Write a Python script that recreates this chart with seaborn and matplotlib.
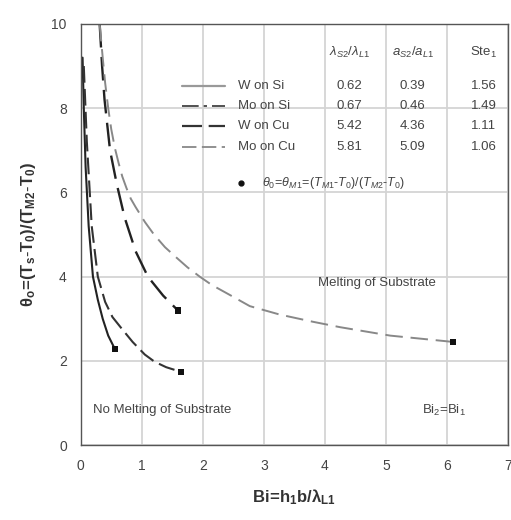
import numpy as np
import matplotlib
matplotlib.use('Agg')
import matplotlib.pyplot as plt
import pandas as pd
import seaborn as sns

sns.set_theme(style="whitegrid")
plt.rcParams['font.family'] = ['Liberation Sans', 'DejaVu Sans']
plt.rcParams['mathtext.fontset'] = 'custom'
plt.rcParams['mathtext.rm'] = 'Liberation Sans'
plt.rcParams['mathtext.it'] = 'Liberation Sans:italic'
plt.rcParams['mathtext.bf'] = 'Liberation Sans:bold'

# curves (Bi, theta)
a_x = [0.03, 0.05, 0.08, 0.13, 0.2, 0.28, 0.36, 0.45, 0.56]
a_y = [9.2, 8.0, 6.6, 5.2, 4.0, 3.45, 3.0, 2.6, 2.28]
b_x = [0.05, 0.1, 0.18, 0.28, 0.4, 0.52, 0.68, 0.85, 1.05, 1.21, 1.4, 1.64]
b_y = [9.0, 7.2, 5.2, 4.0, 3.4, 3.04, 2.75, 2.45, 2.15, 1.98, 1.85, 1.74]
c_x = [0.31, 0.35, 0.39, 0.48, 0.59, 0.72, 0.9, 1.1, 1.35, 1.59]
c_y = [10.0, 9.0, 8.2, 7.0, 6.2, 5.4, 4.6, 4.0, 3.55, 3.2]
d_x = [0.31, 0.36, 0.4, 0.45, 0.5, 0.56, 0.62, 0.68, 0.75, 0.82, 0.9, 1.05,
       1.2, 1.38, 1.57, 1.75, 1.95, 2.15, 2.4, 2.77, 3.26, 3.8, 4.25, 5.07,
       6.1]
d_y = [10.0, 9.2, 8.6, 8.0, 7.5, 7.05, 6.7, 6.38, 6.1, 5.85, 5.65, 5.3,
       5.0, 4.7, 4.45, 4.22, 4.0, 3.8, 3.6, 3.3, 3.1, 2.93, 2.8, 2.6, 2.45]

materials = ['W on Si', 'Mo on Si', 'W on Cu', 'Mo on Cu']
lam_ratio = ['0.62', '0.67', '5.42', '5.81']
a_ratio = ['0.39', '0.46', '4.36', '5.09']
ste = ['1.56', '1.49', '1.11', '1.06']

curves = [(a_x, a_y), (b_x, b_y), (c_x, c_y), (d_x, d_y)]
# style per curve in the plot, and the matching legend sample
curve_styles = [
    dict(color='#222222', lw=1.5, ls='-'),
    dict(color='#333333', lw=1.5, ls=(0, (8, 3))),
    dict(color='#222222', lw=1.7, ls=(0, (10, 4))),
    dict(color='#888888', lw=1.4, ls=(0, (9, 4))),
]
legend_styles = [
    dict(color='#999999', lw=1.6, ls='-'),
    dict(color='#333333', lw=1.2, ls=(0, (10, 3, 2, 3))),
    dict(color='#333333', lw=1.6, ls=(0, (9, 3))),
    dict(color='#888888', lw=1.3, ls=(0, (8, 3))),
]

fig, ax = plt.subplots(figsize=(5.11, 5.20), dpi=100)
fig.subplots_adjust(left=0.158, right=0.994, bottom=0.144, top=0.954)

for (xs, ys), st in zip(curves, curve_styles):
    sns.lineplot(x=xs, y=ys, ax=ax, sort=False, estimator=None,
                 color=st['color'], linewidth=st['lw'], linestyle=st['ls'])
    sns.scatterplot(x=[xs[-1]], y=[ys[-1]], ax=ax, color='#111111', s=22,
                    marker='s', edgecolor='none', zorder=5)

ax.set_xlim(0, 7)
ax.set_ylim(0, 10)
ax.set_xticks(range(0, 8))
ax.set_yticks(range(0, 11, 2))
ax.grid(True, color='#d4d4d4', linewidth=1.3)
for s in ax.spines.values():
    s.set_color('#555555')
    s.set_linewidth(1.0)
ax.tick_params(labelsize=10, colors='#444444', pad=4)

ax.set_xlabel(r'$\mathbf{Bi\!=\!h_1b/\lambda_{L1}}$', fontsize=12,
              color='#333333', labelpad=10)
ax.set_ylabel(r'$\mathbf{\theta_o\!=\!(T_s\text{-}T_0)/(T_{M2}\text{-}T_0)}$',
              fontsize=12, color='#333333', labelpad=10)

# table-style legend
tc = '#444444'
fs = 9.5
ax.text(0.628, 0.933, r'$\lambda_{S2}/\lambda_{L1}$', transform=ax.transAxes,
        ha='center', va='center', fontsize=fs, color=tc)
ax.text(0.777, 0.933, r'$a_{S2}/a_{L1}$', transform=ax.transAxes,
        ha='center', va='center', fontsize=fs, color=tc)
ax.text(0.943, 0.933, r'Ste$_1$', transform=ax.transAxes,
        ha='center', va='center', fontsize=fs, color=tc)
rows_y = [0.853, 0.805, 0.757, 0.708]
for i, ry in enumerate(rows_y):
    st = legend_styles[i]
    ax.plot([0.236, 0.337], [ry, ry], transform=ax.transAxes,
            color=st['color'], lw=st['lw'], ls=st['ls'])
    ax.text(0.367, ry, materials[i], transform=ax.transAxes, ha='left',
            va='center', fontsize=fs, color=tc)
    ax.text(0.628, ry, lam_ratio[i], transform=ax.transAxes, ha='center',
            va='center', fontsize=fs, color=tc)
    ax.text(0.777, ry, a_ratio[i], transform=ax.transAxes, ha='center',
            va='center', fontsize=fs, color=tc)
    ax.text(0.943, ry, ste[i], transform=ax.transAxes, ha='center',
            va='center', fontsize=fs, color=tc)
ax.plot([0.374], [0.622], transform=ax.transAxes, marker='o', ms=3.5,
        color='#111111', ls='none')
ax.text(0.425, 0.622,
        r'$\theta_0\!=\!\theta_{M1}\!=\!(T_{M1}\text{-}T_0)/(T_{M2}\text{-}T_0)$',
        transform=ax.transAxes, ha='left', va='center', fontsize=9, color=tc)

ax.text(4.85, 3.85, 'Melting of Substrate', ha='center', va='center',
        fontsize=fs, color=tc)
ax.text(0.2, 0.83, 'No Melting of Substrate', ha='left', va='center',
        fontsize=fs, color=tc)
ax.text(5.95, 0.83, r'Bi$_2$=Bi$_1$', ha='center', va='center',
        fontsize=fs, color=tc)

fig.savefig('out.png', dpi=100)
